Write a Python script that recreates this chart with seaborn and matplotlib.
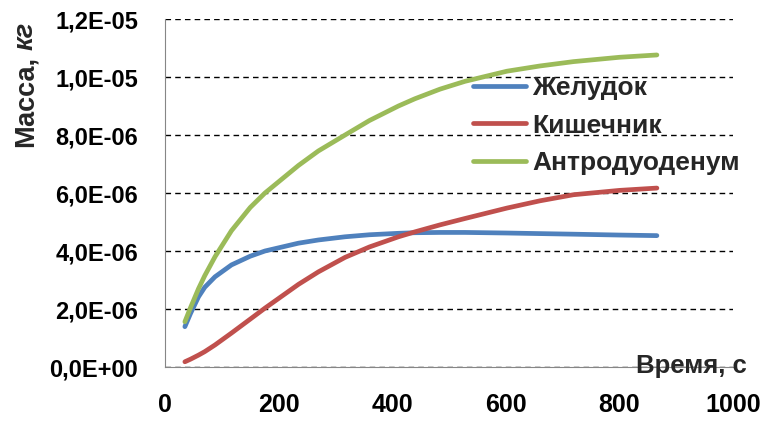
import numpy as np
import pandas as pd
import seaborn as sns
import matplotlib.pyplot as plt
from matplotlib.ticker import FuncFormatter

sns.set_style("white")
plt.rcParams['font.family'] = ['Liberation Sans', 'DejaVu Sans']

t = [35, 45, 59, 70, 88, 117, 150, 176, 235, 270, 317, 360, 411, 440, 484, 528, 602, 660, 719, 800, 866]
stomach = [1.39, 1.85, 2.42, 2.75, 3.11, 3.52, 3.82, 4.0, 4.27, 4.38, 4.49, 4.56, 4.61, 4.63, 4.64, 4.64, 4.62, 4.6, 4.58, 4.55, 4.53]
intestine = [0.18, 0.27, 0.41, 0.53, 0.76, 1.17, 1.65, 2.03, 2.85, 3.28, 3.78, 4.14, 4.49, 4.66, 4.9, 5.12, 5.48, 5.73, 5.94, 6.09, 6.17]
antro = [1.56, 2.05, 2.7, 3.15, 3.8, 4.7, 5.5, 6.0, 6.95, 7.45, 8.0, 8.5, 9.0, 9.25, 9.58, 9.85, 10.2, 10.38, 10.53, 10.68, 10.76]
names = ['Желудок', 'Кишечник', 'Антродуоденум']
colors = ['#4F81BD', '#C0504D', '#9BBB59']

rows = []
for name, vals in zip(names, [stomach, intestine, antro]):
    for x, v in zip(t, vals):
        rows.append({'t': x, 'm': v * 1e-6, 'series': name})
df = pd.DataFrame(rows)

fig = plt.figure(figsize=(7.69, 4.21), dpi=100)
ax = fig.add_axes([165/769, 1 - 367/421, (733 - 165)/769, (367 - 19)/421])

sns.lineplot(data=df, x='t', y='m', hue='series', palette=colors, linewidth=3.4,
             ax=ax, hue_order=names, solid_capstyle='round', solid_joinstyle='round')

ax.set_xlim(0, 1000)
ax.set_ylim(0, 1.2e-5)
ax.set_xticks(np.arange(0, 1001, 200))
ax.set_yticks(np.arange(0, 1.21e-5, 2e-6))
ax.yaxis.set_major_formatter(FuncFormatter(lambda v, p: f"{v:.1E}".replace('.', ',')))
ax.grid(axis='y', color='black', linestyle=(0, (4, 3)), linewidth=1)
ax.grid(axis='x', visible=False)
for s in ['top', 'right']:
    ax.spines[s].set_visible(False)
for s in ['left', 'bottom']:
    ax.spines[s].set_color('#868686')
ax.tick_params(axis='both', colors='#868686', labelcolor='black', length=6.5, width=1)
ax.tick_params(axis='x', pad=12, labelsize=18)
ax.tick_params(axis='y', pad=13, labelsize=17)
for lab in ax.get_xticklabels() + ax.get_yticklabels():
    lab.set_fontweight('bold')
ax.set_xlabel('')
ax.set_ylabel('')

# y label: "Масса, " regular bold, "кг" bold italic
t1 = fig.text(0.033, 1 - 147/421, 'Масса,', rotation=90, fontsize=19.5, fontweight='bold',
              ha='center', va='bottom')
fig.canvas.draw()
bb = t1.get_window_extent().transformed(fig.transFigure.inverted())
fig.text(0.033, bb.y1 + 6/421, 'кг', rotation=90, fontsize=19.5, fontweight='bold',
         style='italic', ha='center', va='bottom')

fig.text(747/769, 1 - 373/421, 'Время, с', fontsize=18.5, fontweight='bold', ha='right', va='baseline')

ax.legend(loc='upper left', bbox_to_anchor=(0.542, 0.835), frameon=False,
          prop={'weight': 'bold', 'size': 19}, handlelength=2.0, labelspacing=0.5,
          handletextpad=0.25, borderpad=0, borderaxespad=0)

fig.savefig('out.png', dpi=100)
